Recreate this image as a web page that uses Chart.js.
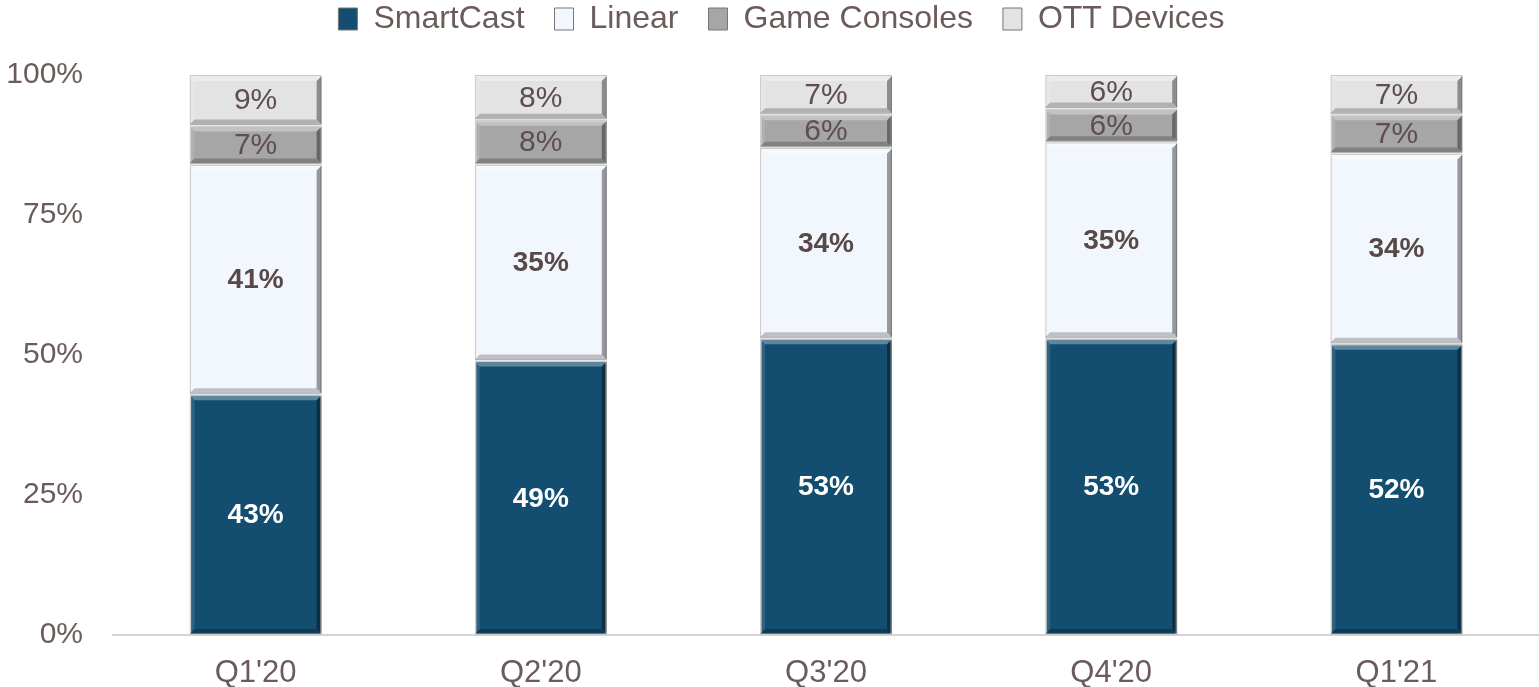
<!DOCTYPE html>
<html>
<head>
<meta charset="utf-8">
<script src="https://cdn.jsdelivr.net/npm/chart.js@4"></script>
<style>
html,body{margin:0;padding:0;background:#fff;}
#wrap{width:1539px;height:687px;position:relative;}
</style>
</head>
<body>
<div id="wrap"><canvas id="c" width="1539" height="687"></canvas></div>
<script>
const categories = ["Q1'20", "Q2'20", "Q3'20", "Q4'20", "Q1'21"];
const smartCast = [43, 49, 53, 53, 52];
const linear = [41, 35, 34, 35, 34];
const gameConsoles = [7, 8, 6, 6, 7];
const ottDevices = [9, 8, 7, 6, 7];
const yTicks = [0, 25, 50, 75, 100];

const textColor = '#6B5B5B';
const FONT = '"Liberation Sans", Arial, sans-serif';

const colors = {
  smart: '#134E70',
  linear: '#F2F6FD',
  game: '#A6A6A6',
  ott: '#E3E3E3'
};

const legendTweak = {
  id: 'legendTweak',
  beforeInit(chart) {
    const lg = chart.legend;
    const origFit = lg.fit;
    lg.fit = function () {
      origFit.call(lg);
      lg.height = 75;
    };
    const origDraw = lg.draw;
    lg.draw = function () {
      const ctx = chart.ctx;
      ctx.save();
      ctx.translate(9, -27);
      origDraw.call(lg);
      ctx.restore();
    };
  }
};

const bevelPlugin = {
  id: 'bevel',
  afterDatasetsDraw(chart) {
    const ctx = chart.ctx;
    chart.data.datasets.forEach((ds, di) => {
      const meta = chart.getDatasetMeta(di);
      meta.data.forEach((bar) => {
        const x0 = bar.x - bar.width / 2, x1 = bar.x + bar.width / 2;
        const y0 = Math.min(bar.y, bar.base) + 1, y1 = Math.max(bar.y, bar.base) - 1;
        const b = 5;
        ctx.save();
        ctx.fillStyle = 'rgba(255,255,255,0.32)';
        ctx.beginPath();
        ctx.moveTo(x0, y0); ctx.lineTo(x1, y0); ctx.lineTo(x1 - b, y0 + b); ctx.lineTo(x0 + b, y0 + b); ctx.closePath(); ctx.fill();
        ctx.fillStyle = 'rgba(255,255,255,0.12)';
        ctx.beginPath();
        ctx.moveTo(x0, y0); ctx.lineTo(x0 + b, y0 + b); ctx.lineTo(x0 + b, y1 - b); ctx.lineTo(x0, y1); ctx.closePath(); ctx.fill();
        ctx.fillStyle = 'rgba(0,0,0,0.38)';
        ctx.beginPath();
        ctx.moveTo(x1, y0); ctx.lineTo(x1, y1); ctx.lineTo(x1 - b, y1 - b); ctx.lineTo(x1 - b, y0 + b); ctx.closePath(); ctx.fill();
        ctx.fillStyle = 'rgba(0,0,0,0.22)';
        ctx.beginPath();
        ctx.moveTo(x0, y1); ctx.lineTo(x1, y1); ctx.lineTo(x1 - b, y1 - b); ctx.lineTo(x0 + b, y1 - b); ctx.closePath(); ctx.fill();
        ctx.restore();
      });
    });
    chart.data.datasets.forEach((ds, di) => {
      const meta = chart.getDatasetMeta(di);
      meta.data.forEach((bar, i) => {
        const v = ds.data[i];
        const yc = (bar.y + bar.base) / 2;
        ctx.save();
        ctx.font = (ds.labelBold ? 'bold 28px ' : '30px ') + FONT;
        ctx.fillStyle = ds.labelColor;
        ctx.textAlign = 'center';
        ctx.textBaseline = 'middle';
        ctx.fillText(v + '%', bar.x, yc + 1);
        ctx.restore();
      });
    });
  }
};

new Chart(document.getElementById('c'), {
  type: 'bar',
  data: {
    labels: categories,
    datasets: [
      { label: 'SmartCast', data: smartCast, backgroundColor: colors.smart, labelColor: '#FFFFFF', labelBold: true },
      { label: 'Linear', data: linear, backgroundColor: colors.linear, labelColor: '#594848', labelBold: true },
      { label: 'Game Consoles', data: gameConsoles, backgroundColor: colors.game, labelColor: '#5E4E4E', labelBold: false },
      { label: 'OTT Devices', data: ottDevices, backgroundColor: colors.ott, labelColor: '#5E4E4E', labelBold: false }
    ].map(d => Object.assign(d, {
      borderWidth: 1.5, borderColor: '#C8C8C8', borderSkipped: false,
      barPercentage: 0.463, categoryPercentage: 1.0
    }))
  },
  options: {
    responsive: false,
    animation: false,
    layout: { padding: { left: 6, right: 0, top: 0, bottom: 0 } },
    plugins: {
      legend: {
        position: 'top',
        labels: {
          font: { size: 32, family: FONT },
          color: textColor,
          boxWidth: 19,
          boxHeight: 22,
          padding: 30,
          generateLabels(chart) {
            return chart.data.datasets.map((ds, i) => ({
              text: ds.label,
              fillStyle: ds.backgroundColor,
              strokeStyle: '#777',
              lineWidth: 1,
              fontColor: textColor,
              datasetIndex: i
            }));
          }
        }
      },
      tooltip: { enabled: false }
    },
    scales: {
      x: {
        stacked: true,
        grid: { display: false, drawTicks: false },
        border: { color: '#D9D2D2', width: 2 },
        ticks: { font: { size: 31, family: FONT }, color: textColor, padding: 20 },
        afterFit(axis) { axis.height = 52; }
      },
      y: {
        stacked: true,
        min: 0,
        max: 100,
        afterBuildTicks(axis) { axis.ticks = yTicks.map(v => ({ value: v })); },
        afterFit(axis) { axis.width = 107; },
        grid: { display: false, drawTicks: false },
        border: { display: false },
        ticks: { font: { size: 30, family: FONT }, color: textColor, padding: 30, callback: v => v + '%' }
      }
    }
  },
  plugins: [legendTweak, bevelPlugin]
});
</script>
</body>
</html>
